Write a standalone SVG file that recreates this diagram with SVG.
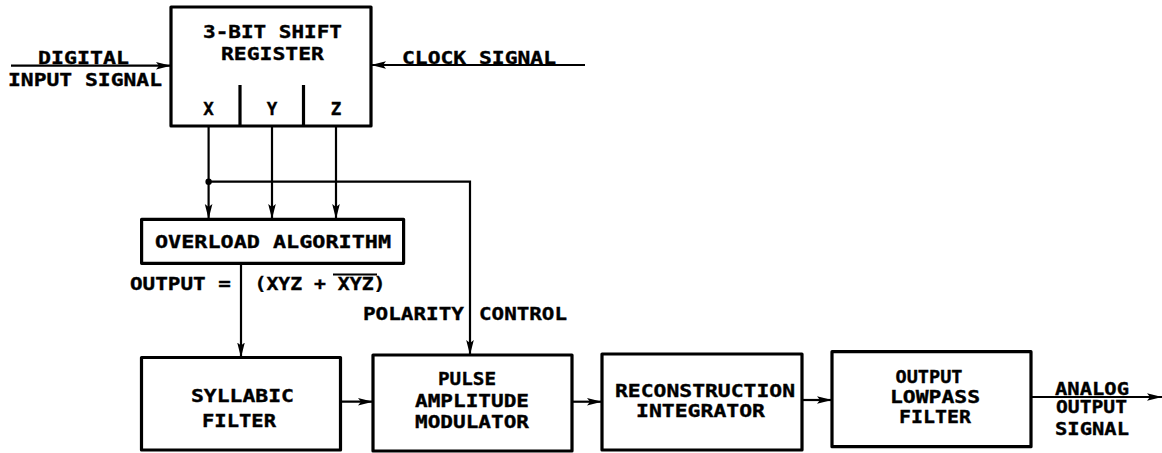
<svg xmlns="http://www.w3.org/2000/svg" width="1162" height="453" viewBox="0 0 1162 453">
<style>
.box{fill:#fff;stroke:#000;stroke-width:3.2;stroke-linejoin:round}
.ln{fill:none;stroke:#000;stroke-width:2.2}
.t{font-family:"DejaVu Sans Mono","Liberation Mono",monospace;font-weight:bold;font-size:17.5px;fill:#000;stroke:#000;stroke-width:0.35}
</style>
<defs>
<marker id="ah" markerUnits="userSpaceOnUse" markerWidth="16" markerHeight="10" refX="15" refY="5" orient="auto">
<path d="M0,1.2 L15,5 L0,8.8 L3,5 Z" fill="#000"/>
</marker>
</defs>
<rect width="1162" height="453" fill="#fff"/>
<g id="connectors">
<line class="ln" x1="11" y1="65.7" x2="171" y2="65.7" marker-end="url(#ah)"/>
<line class="ln" x1="585" y1="65" x2="371" y2="65" marker-end="url(#ah)"/>
<line class="ln" x1="208.6" y1="126" x2="208.6" y2="219" marker-end="url(#ah)"/>
<line class="ln" x1="272" y1="126" x2="272" y2="219" marker-end="url(#ah)"/>
<line class="ln" x1="336" y1="126" x2="336" y2="219" marker-end="url(#ah)"/>
<polyline class="ln" points="208.6,181.7 470,181.7 470,355" marker-end="url(#ah)"/>
<circle cx="208.6" cy="181.7" r="3.2" fill="#000"/>
<line class="ln" x1="241" y1="263.3" x2="241" y2="357.5" marker-end="url(#ah)"/>
<line class="ln" x1="340.5" y1="401.7" x2="373" y2="401.7" marker-end="url(#ah)"/>
<line class="ln" x1="572" y1="401.7" x2="602" y2="401.7" marker-end="url(#ah)"/>
<line class="ln" x1="802" y1="400" x2="832" y2="400" marker-end="url(#ah)"/>
<line class="ln" x1="1031" y1="397" x2="1162" y2="397" marker-end="url(#ah)"/>
<line x1="333" y1="274.5" x2="377" y2="274.5" stroke="#000" stroke-width="1.8"/>
</g>
<g id="labels">
<text class="t" x="38" y="64" textLength="91" lengthAdjust="spacingAndGlyphs">DIGITAL</text>
<text class="t" x="8" y="86" textLength="154" lengthAdjust="spacingAndGlyphs">INPUT SIGNAL</text>
<text class="t" x="402" y="64" textLength="154" lengthAdjust="spacingAndGlyphs">CLOCK SIGNAL</text>
<text class="t" x="130" y="290" textLength="101" lengthAdjust="spacingAndGlyphs">OUTPUT =</text>
<text class="t" x="254.5" y="290" textLength="131" lengthAdjust="spacingAndGlyphs">(XYZ + XYZ)</text>
<text class="t" x="363" y="319.5" textLength="101" lengthAdjust="spacingAndGlyphs">POLARITY</text>
<text class="t" x="479" y="319.5" textLength="88" lengthAdjust="spacingAndGlyphs">CONTROL</text>
<text class="t" x="1055" y="395" textLength="74" lengthAdjust="spacingAndGlyphs">ANALOG</text>
<text class="t" x="1056" y="413.3" textLength="71" lengthAdjust="spacingAndGlyphs">OUTPUT</text>
<text class="t" x="1055" y="435" textLength="74" lengthAdjust="spacingAndGlyphs">SIGNAL</text>
</g>
<g id="shift-register">
<rect class="box" x="171" y="7" width="200" height="119"/>
<line class="box" x1="240" y1="85" x2="240" y2="126"/>
<line class="box" x1="303.5" y1="85" x2="303.5" y2="126"/>
<text class="t" x="203" y="38.3" textLength="139" lengthAdjust="spacingAndGlyphs">3-BIT SHIFT</text>
<text class="t" x="221" y="60" textLength="103" lengthAdjust="spacingAndGlyphs">REGISTER</text>
<text class="t" x="208.6" y="115" text-anchor="middle">X</text>
<text class="t" x="272" y="115" text-anchor="middle">Y</text>
<text class="t" x="336" y="115" text-anchor="middle">Z</text>
</g>
<g id="overload">
<rect class="box" x="141.6" y="219.3" width="262" height="44"/>
<text class="t" x="155" y="248.3" textLength="236" lengthAdjust="spacingAndGlyphs">OVERLOAD ALGORITHM</text>
</g>
<g id="syllabic">
<rect class="box" x="141.5" y="357.5" width="199" height="92.5"/>
<text class="t" x="191" y="401.7" textLength="103" lengthAdjust="spacingAndGlyphs">SYLLABIC</text>
<text class="t" x="202" y="427" textLength="74" lengthAdjust="spacingAndGlyphs">FILTER</text>
</g>
<g id="pam">
<rect class="box" x="373" y="355" width="199" height="96"/>
<text class="t" x="438" y="385" textLength="58" lengthAdjust="spacingAndGlyphs">PULSE</text>
<text class="t" x="415" y="406.7" textLength="114" lengthAdjust="spacingAndGlyphs">AMPLITUDE</text>
<text class="t" x="415" y="428.3" textLength="114" lengthAdjust="spacingAndGlyphs">MODULATOR</text>
</g>
<g id="reconstruction">
<rect class="box" x="602" y="354" width="200" height="96"/>
<text class="t" x="615" y="396.7" textLength="180" lengthAdjust="spacingAndGlyphs">RECONSTRUCTION</text>
<text class="t" x="636" y="416.7" textLength="129" lengthAdjust="spacingAndGlyphs">INTEGRATOR</text>
</g>
<g id="lowpass">
<rect class="box" x="832" y="351.7" width="199" height="95"/>
<text class="t" x="895.5" y="383.3" textLength="67" lengthAdjust="spacingAndGlyphs">OUTPUT</text>
<text class="t" x="890" y="403.3" textLength="90" lengthAdjust="spacingAndGlyphs">LOWPASS</text>
<text class="t" x="899" y="423.3" textLength="72" lengthAdjust="spacingAndGlyphs">FILTER</text>
</g>
</svg>
